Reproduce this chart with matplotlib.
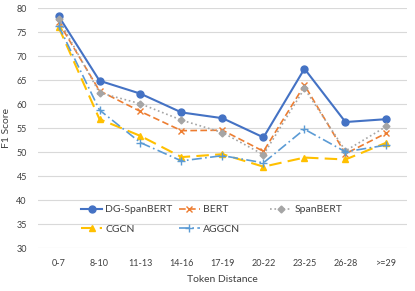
import matplotlib
matplotlib.use("Agg")
import matplotlib.pyplot as plt

plt.rcParams['font.family'] = ['Lato', 'DejaVu Sans']

categories = ["0-7", "8-10", "11-13", "14-16", "17-19", "20-22", "23-25", "26-28", ">=29"]
dg_spanbert = [78.4, 64.9, 62.2, 58.3, 57.1, 53.1, 67.4, 56.3, 56.9]
bert = [77.1, 62.8, 58.5, 54.5, 54.6, 50.2, 64.0, 49.7, 54.0]
spanbert = [77.8, 62.4, 60.1, 56.7, 54.1, 49.5, 63.3, 50.3, 55.4]
cgcn = [76.1, 56.9, 53.4, 49.0, 49.6, 47.0, 48.9, 48.5, 52.0]
aggcn = [76.4, 58.8, 52.0, 48.2, 49.3, 47.8, 54.8, 50.1, 51.5]

x = list(range(len(categories)))

fig = plt.figure(figsize=(4.15, 2.91), dpi=100)
ax = fig.add_axes([0.0916, 0.1467, 0.889, 0.825])

l_dg, = ax.plot(x, dg_spanbert, '-', color='#4472C4', marker='o', ms=5, lw=1.5, label='DG-SpanBERT')
l_bert, = ax.plot(x, bert, '--', color='#ED7D31', marker='x', ms=5, lw=1.2, dashes=(4, 2), label='BERT')
l_span, = ax.plot(x, spanbert, ':', color='#A5A5A5', marker='D', ms=3.5, lw=1.2, label='SpanBERT')
l_cgcn, = ax.plot(x, cgcn, '--', color='#FFC000', marker='^', ms=5, lw=1.5, dashes=(6, 3), label='CGCN')
l_agg, = ax.plot(x, aggcn, '-.', color='#5B9BD5', marker='+', ms=5.5, lw=1.2, dashes=(6, 2, 1, 2), label='AGGCN')

ax.set_xlim(-0.5, 8.5)
ax.set_ylim(30, 80)
ax.set_yticks(range(30, 81, 5))
ax.set_xticks(x)
ax.set_xticklabels(categories)
ax.tick_params(axis='both', length=0, labelsize=6.5, colors='#404040', pad=8)
ax.grid(axis='y', color='#D9D9D9', lw=0.8)
ax.set_axisbelow(True)
for s in ax.spines.values():
    s.set_visible(False)

ax.set_ylabel("F1 Score", fontsize=7.5, color='#404040', labelpad=4)
ax.set_xlabel("Token Distance", fontsize=7.5, color='#404040', labelpad=5)

# Excel-style legend with equal column widths: one legend per column
leg_kw = dict(frameon=False, fontsize=7.5, handlelength=2.0, handletextpad=0.3,
              labelspacing=0.95, labelcolor='#404040', borderpad=0, borderaxespad=0)
cols = [([l_dg, l_cgcn], ['DG-SpanBERT', 'CGCN'], 0.117),
        ([l_bert, l_agg], ['BERT', 'AGGCN'], 0.382),
        ([l_span], ['SpanBERT'], 0.63)]
for handles, labels, xpos in cols:
    leg = fig.legend(handles, labels, loc='upper left',
                     bbox_to_anchor=(xpos, 0.18), bbox_transform=ax.transAxes, **leg_kw)

fig.savefig("out.png", dpi=100)
